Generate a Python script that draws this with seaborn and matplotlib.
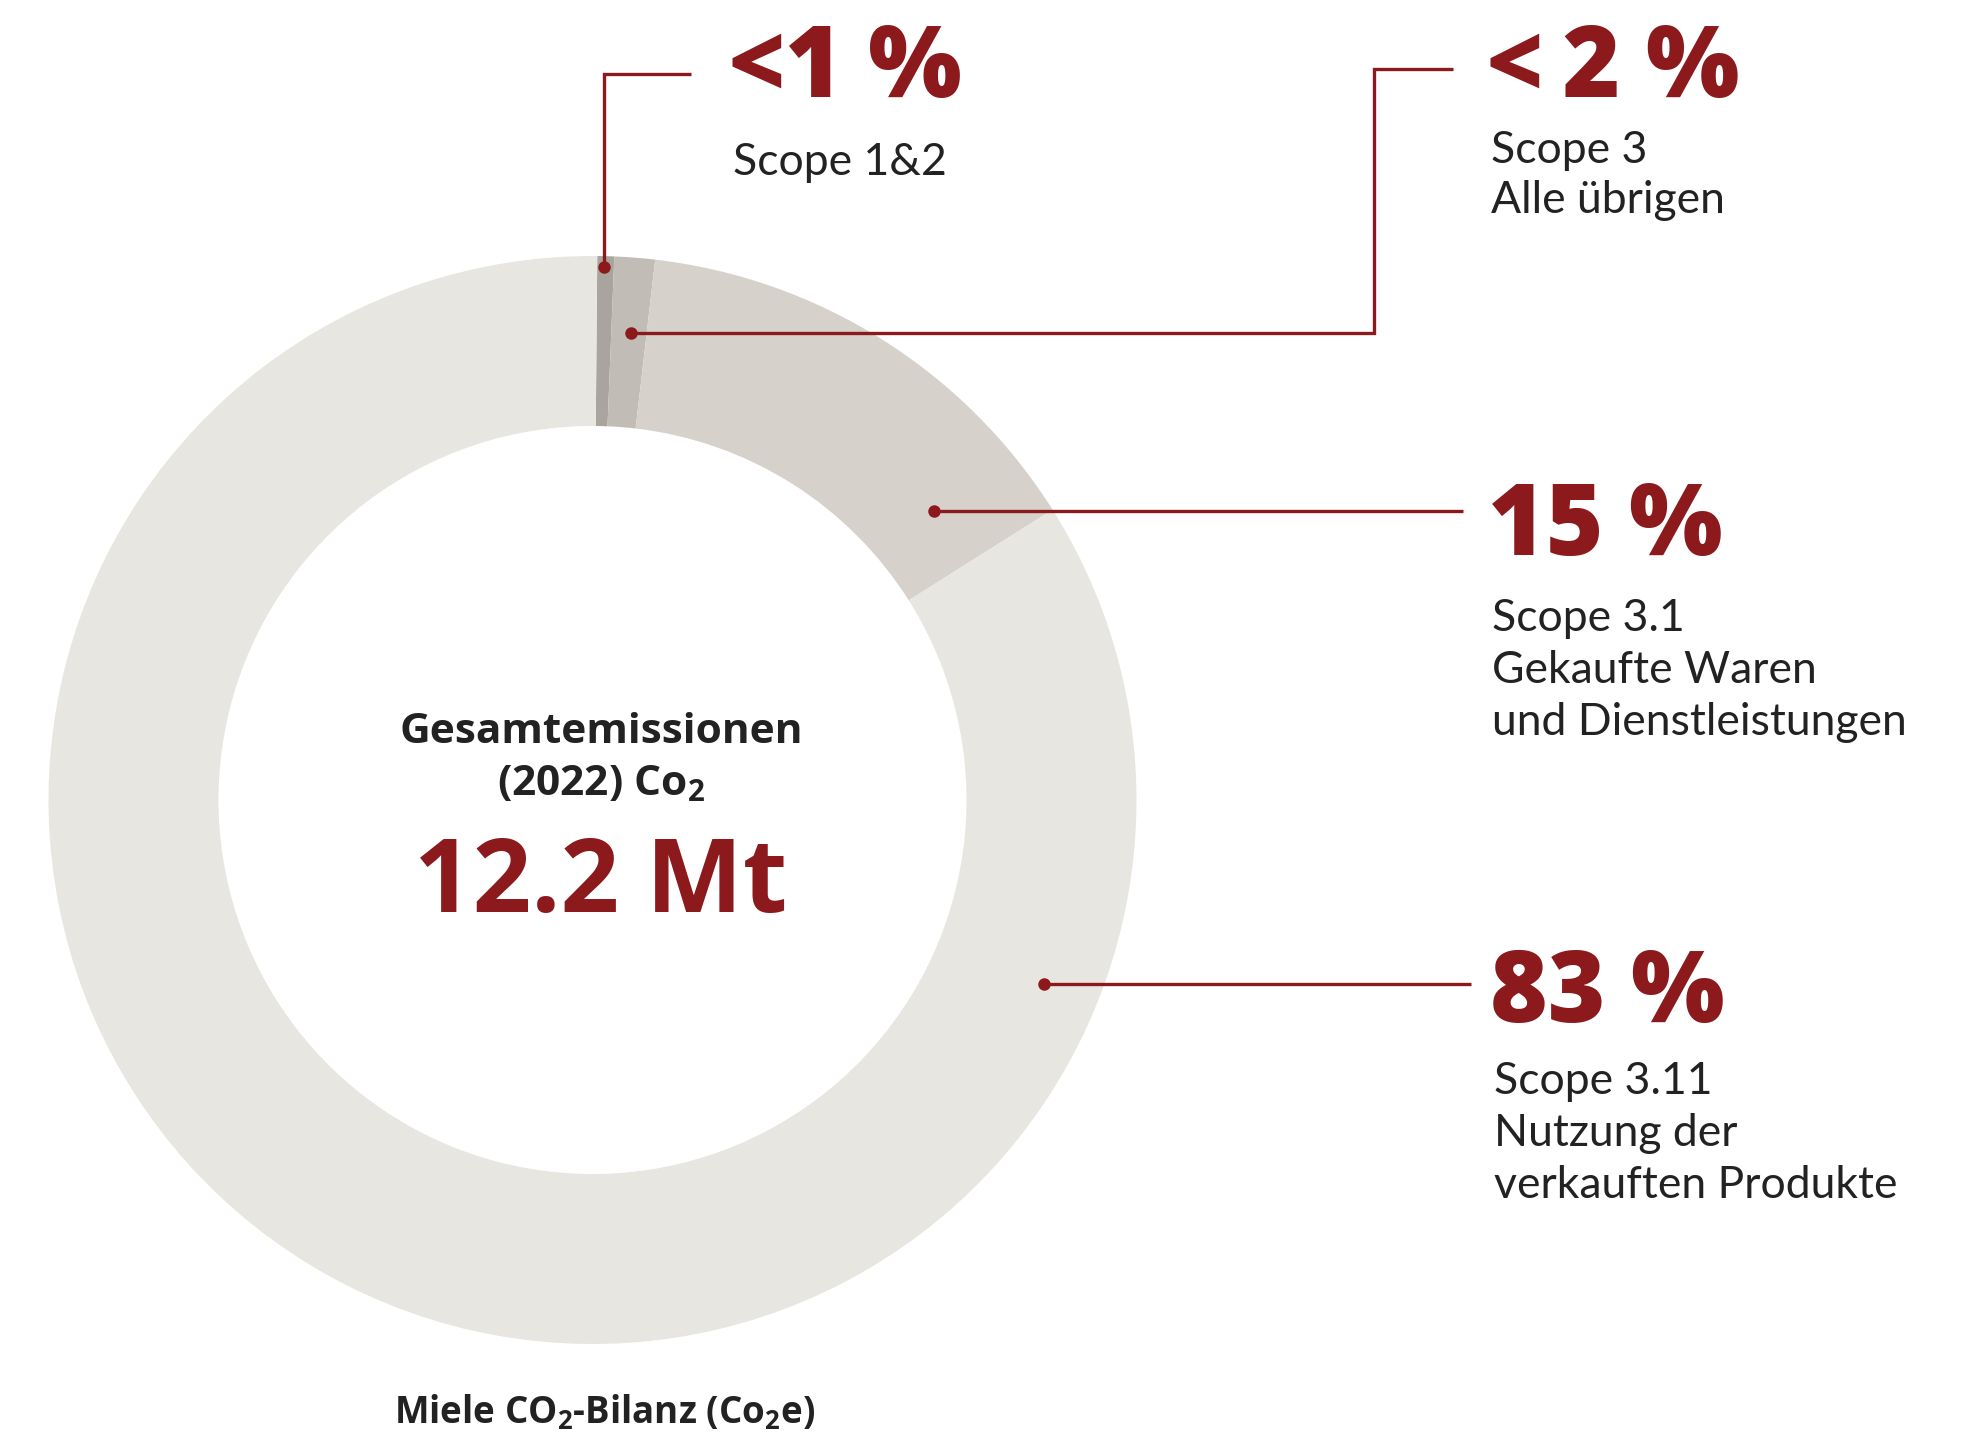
import matplotlib
matplotlib.use("Agg")
import matplotlib.pyplot as plt
import seaborn as sns

# Data
segments = ["Scope 1&2", "Scope 3 Alle übrigen", "Scope 3.1", "Scope 3.11"]
shares = [0.5, 1.2, 14.2, 84.1]
seg_colors = ["#a9a49e", "#c1bcb5", "#d6d2cb", "#e8e6e1"]

big_labels = ["<1 %", "<\u20092 %", "15 %", "83 %"]
sub_labels = [
    ["Scope 1&2"],
    ["Scope 3", "Alle übrigen"],
    ["Scope 3.1", "Gekaufte Waren", "und Dienstleistungen"],
    ["Scope 3.11", "Nutzung der", "verkauften Produkte"],
]

total_title = ["Gesamtemissionen", "(2022) Co$_\\mathbf{2}$"]
total_value = "12.2 Mt"
chart_title = "Miele CO$_\\mathbf{2}$-Bilanz (Co$_\\mathbf{2}$e)"

RED = "#8c191c"
DARK = "#222222"

sns.set_style("white")
plt.rcParams["font.family"] = ["Lato", "DejaVu Sans"]
plt.rcParams["mathtext.fontset"] = "custom"
plt.rcParams["mathtext.rm"] = "Open Sans"
plt.rcParams["mathtext.bf"] = "Open Sans:bold"

fig = plt.figure(figsize=(19.61, 14.35), dpi=100)
ax = fig.add_axes([0, 0, 1, 1])

# donut (y axis is inverted afterwards, so counterclock=True draws clockwise on screen)
cx, cy, R = 592.5, 800, 544
ax.pie(shares, colors=seg_colors, radius=R, center=(cx, cy),
       startangle=-89.5, counterclock=True,
       wedgeprops=dict(width=170, edgecolor="none", linewidth=0))

ax.set_xlim(0, 1961)
ax.set_ylim(1435, 0)
ax.set_aspect("equal")
ax.axis("off")

# leader lines: (path x, path y)
leaders = [
    ([604, 604, 691], [267, 74, 74]),
    ([631, 1374, 1374, 1453], [333, 333, 69, 69]),
    ([934, 1463], [511, 511]),
    ([1044, 1471], [984, 984]),
]
for xs, ys in leaders:
    ax.plot(xs, ys, color=RED, lw=2.4, solid_joinstyle="miter", solid_capstyle="butt")
    ax.plot(xs[0], ys[0], "o", color=RED, ms=9, mec="none")

# label blocks: (x, big baseline, first sub baseline, sub line step)
blocks = [
    (729, 97, 175, 52),
    (1487, 97, 163, 50),
    (1488, 555, 631, 52),
    (1490, 1022, 1094, 52),
]
for (x, yb, ys, step), big, subs in zip(blocks, big_labels, sub_labels):
    ax.text(x, yb, big, color=RED, fontsize=71, fontweight="black", va="baseline", ha="left",
            family=["Open Sans", "Lato", "DejaVu Sans"])
    for i, s in enumerate(subs):
        ax.text(x + 4, ys + i * step, s, color=DARK, fontsize=32, fontweight="normal",
                va="baseline", ha="left")

# center text
tx = 601
bold_font = ["Open Sans", "DejaVu Sans"]
ax.text(tx, 743, total_title[0], color=DARK, fontsize=30.5, fontweight="bold", ha="center",
        va="baseline", family=bold_font)
ax.text(tx, 795, total_title[1], color=DARK, fontsize=30.5, fontweight="bold", ha="center",
        va="baseline", family=bold_font)
ax.text(tx, 912, total_value, color=RED, fontsize=74, fontweight="bold", ha="center",
        va="baseline", family=bold_font)

ax.text(605, 1424, chart_title, color=DARK, fontsize=26.5, fontweight="bold", ha="center",
        va="baseline", family=bold_font)

fig.savefig("out.png", dpi=100, facecolor="white")
